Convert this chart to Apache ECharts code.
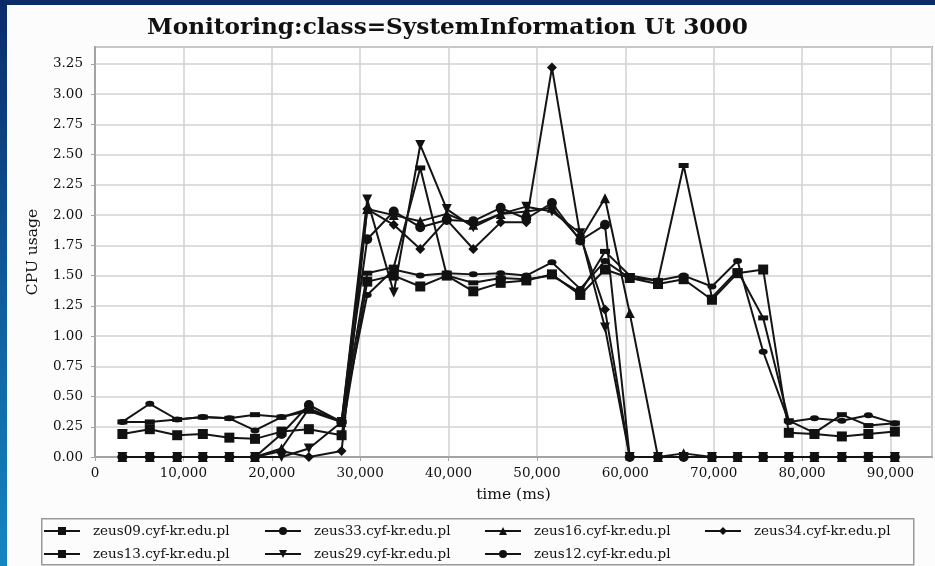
<!DOCTYPE html>
<html>
<head>
<meta charset="utf-8">
<script src="https://cdn.jsdelivr.net/npm/echarts@6/dist/echarts.min.js"></script>
<style>
html,body{margin:0;padding:0;background:#fcfcfc;}
#c{width:935px;height:566px;}
</style>
</head>
<body>
<div id="c"></div>
<script>
// time (ms) of each sample
const times = [3100, 6200, 9300, 12200, 15200, 18100, 21100, 24200, 27900, 30800,
  33800, 36800, 39800, 42800, 45900, 48800, 51700, 54900, 57700, 60500,
  63700, 66600, 69800, 72700, 75600, 78500, 81400, 84500, 87500, 90500];

const zeus09 = [0.19, 0.23, 0.18, 0.19, 0.16, 0.15, 0.21, 0.23, 0.18, 1.45,
  1.50, 1.41, 1.50, 1.37, 1.44, 1.46, 1.51, 1.34, 1.55, 1.48,
  1.43, 1.47, 1.30, 1.52, 1.55, 0.20, 0.19, 0.17, 0.19, 0.21];
const zeus33 = [0, 0, 0, 0, 0, 0, 0.19, 0.43, 0.29, 1.80,
  2.03, 1.90, 1.96, 1.95, 2.06, 1.97, 2.10, 1.79, 1.92, 0,
  0, 0, 0, 0, 0, 0, 0, 0, 0, 0];
const zeus16 = [0, 0, 0, 0, 0, 0, 0.07, 0.40, 0.29, 2.05,
  2.00, 1.95, 2.01, 1.92, 2.01, 2.03, 2.06, 1.80, 2.14, 1.19,
  0, 0.03, 0, 0, 0, 0, 0, 0, 0, 0];
const zeus34 = [0, 0, 0, 0, 0, 0, 0.05, 0, 0.05, 2.05,
  1.92, 1.72, 1.96, 1.72, 1.94, 1.94, 3.22, 1.83, 1.22, 0,
  0, 0, 0, 0, 0, 0, 0, 0, 0, 0];
const zeus13 = [0.29, 0.29, 0.31, 0.33, 0.32, 0.35, 0.33, 0.38, 0.29, 1.52,
  1.57, 2.39, 1.50, 1.44, 1.48, 1.47, 1.50, 1.36, 1.70, 1.50,
  1.46, 2.41, 1.32, 1.54, 1.15, 0.30, 0.20, 0.35, 0.26, 0.28];
const zeus29 = [0, 0, 0, 0, 0, 0, 0, 0.07, 0.29, 2.13,
  1.36, 2.58, 2.05, 1.90, 2.01, 2.07, 2.03, 1.85, 1.07, 0,
  0, 0, 0, 0, 0, 0, 0, 0, 0, 0];
const zeus12 = [0.29, 0.44, 0.31, 0.33, 0.32, 0.22, 0.33, 0.40, 0.29, 1.34,
  1.55, 1.50, 1.52, 1.51, 1.52, 1.50, 1.61, 1.39, 1.62, 1.48,
  1.46, 1.50, 1.41, 1.62, 0.87, 0.29, 0.32, 0.30, 0.345, 0.28];

const seriesNames = ['zeus09.cyf-kr.edu.pl', 'zeus33.cyf-kr.edu.pl', 'zeus16.cyf-kr.edu.pl',
  'zeus34.cyf-kr.edu.pl', 'zeus13.cyf-kr.edu.pl', 'zeus29.cyf-kr.edu.pl', 'zeus12.cyf-kr.edu.pl'];
const seriesValues = [zeus09, zeus33, zeus16, zeus34, zeus13, zeus29, zeus12];

const titleText = 'Monitoring:class=SystemInformation Ut 3000';
const xName = 'time (ms)';
const yName = 'CPU usage';

const FONT = 'DejaVu Serif';
const symbols = [
  {symbol: 'rect', size: 10, rot: 0},
  {symbol: 'circle', size: 10, rot: 0},
  {symbol: 'triangle', size: 10, rot: 0},
  {symbol: 'diamond', size: 10, rot: 0},
  {symbol: 'rect', size: [10, 5], rot: 0},
  {symbol: 'triangle', size: 10, rot: 180},
  {symbol: 'circle', size: [9, 6], rot: 0}
];
const legendPos = [[43, 524], [264, 524], [484, 524], [704, 524], [43, 547], [264, 547], [484, 547]];

const series = seriesNames.map((name, i) => ({
  name: name,
  type: 'line',
  data: times.map((t, j) => [t, seriesValues[i][j]]),
  symbol: symbols[i].symbol,
  symbolSize: symbols[i].size,
  symbolRotate: symbols[i].rot,
  showAllSymbol: true,
  lineStyle: {color: '#141414', width: 2},
  itemStyle: {color: '#111'},
  emphasis: {disabled: true},
  animation: false
}));

const legends = seriesNames.map((name, i) => ({
  data: [name],
  left: legendPos[i][0],
  top: legendPos[i][1],
  itemWidth: 36,
  itemHeight: 10,
  padding: 0,
  selectedMode: false,
  textStyle: {fontFamily: FONT, fontSize: 13.5, color: '#111', padding: [0, 0, 0, 8]}
}));

const chart = echarts.init(document.getElementById('c'), null, {renderer: 'canvas'});
chart.setOption({
  animation: false,
  backgroundColor: '#fcfcfc',
  title: {
    text: titleText,
    left: 142, top: 11,
    textStyle: {fontFamily: FONT, fontWeight: 'bold', fontSize: 23.2, color: '#111'}
  },
  legend: legends,
  grid: {left: 95, right: 3, top: 47, bottom: 109, show: true, backgroundColor: '#ffffff',
    borderColor: '#a9a9a9', borderWidth: 2},
  xAxis: {
    type: 'value', min: 0, max: 94700, interval: 10000,
    name: xName, nameLocation: 'middle', nameGap: 30,
    nameTextStyle: {fontFamily: FONT, fontSize: 15.5, color: '#111'},
    axisLine: {show: true, lineStyle: {color: '#a3a3a3', width: 2}},
    axisTick: {show: true, length: 4, lineStyle: {color: '#a3a3a3'}},
    axisLabel: {fontFamily: FONT, fontSize: 13.5, color: '#111', margin: 9, showMaxLabel: false,
      formatter: v => v.toLocaleString('en-US')},
    splitLine: {show: true, lineStyle: {color: '#d2d2d2', width: 1.5}}
  },
  yAxis: {
    type: 'value', min: 0, max: 3.39, interval: 0.25,
    name: yName, nameLocation: 'middle', nameGap: 54, nameRotate: 90,
    nameTextStyle: {fontFamily: FONT, fontSize: 15.5, color: '#111'},
    axisLine: {show: true, lineStyle: {color: '#a3a3a3', width: 2}},
    axisTick: {show: true, length: 4, lineStyle: {color: '#a3a3a3'}},
    axisLabel: {fontFamily: FONT, fontSize: 13.5, color: '#111', margin: 12, showMaxLabel: false,
      formatter: v => v.toFixed(2)},
    splitLine: {show: true, lineStyle: {color: '#d2d2d2', width: 1.5}}
  },
  graphic: [
    {type: 'rect', left: 41, top: 518, shape: {width: 872, height: 46},
      style: {fill: 'rgba(0,0,0,0)', stroke: '#9a9a9a', lineWidth: 1.5}, z: -1},
    {type: 'rect', left: 0, top: 0, shape: {width: 935, height: 5},
      style: {fill: '#0b2b69'}, z: 10},
    {type: 'rect', left: 0, top: 0, shape: {width: 7, height: 566},
      style: {fill: new echarts.graphic.LinearGradient(0, 0, 0, 1, [
        {offset: 0, color: '#0b2b69'}, {offset: 0.5, color: '#0f5a9a'}, {offset: 1, color: '#1586c2'}])}, z: 10}
  ],
  series: series
});
</script>
</body>
</html>
